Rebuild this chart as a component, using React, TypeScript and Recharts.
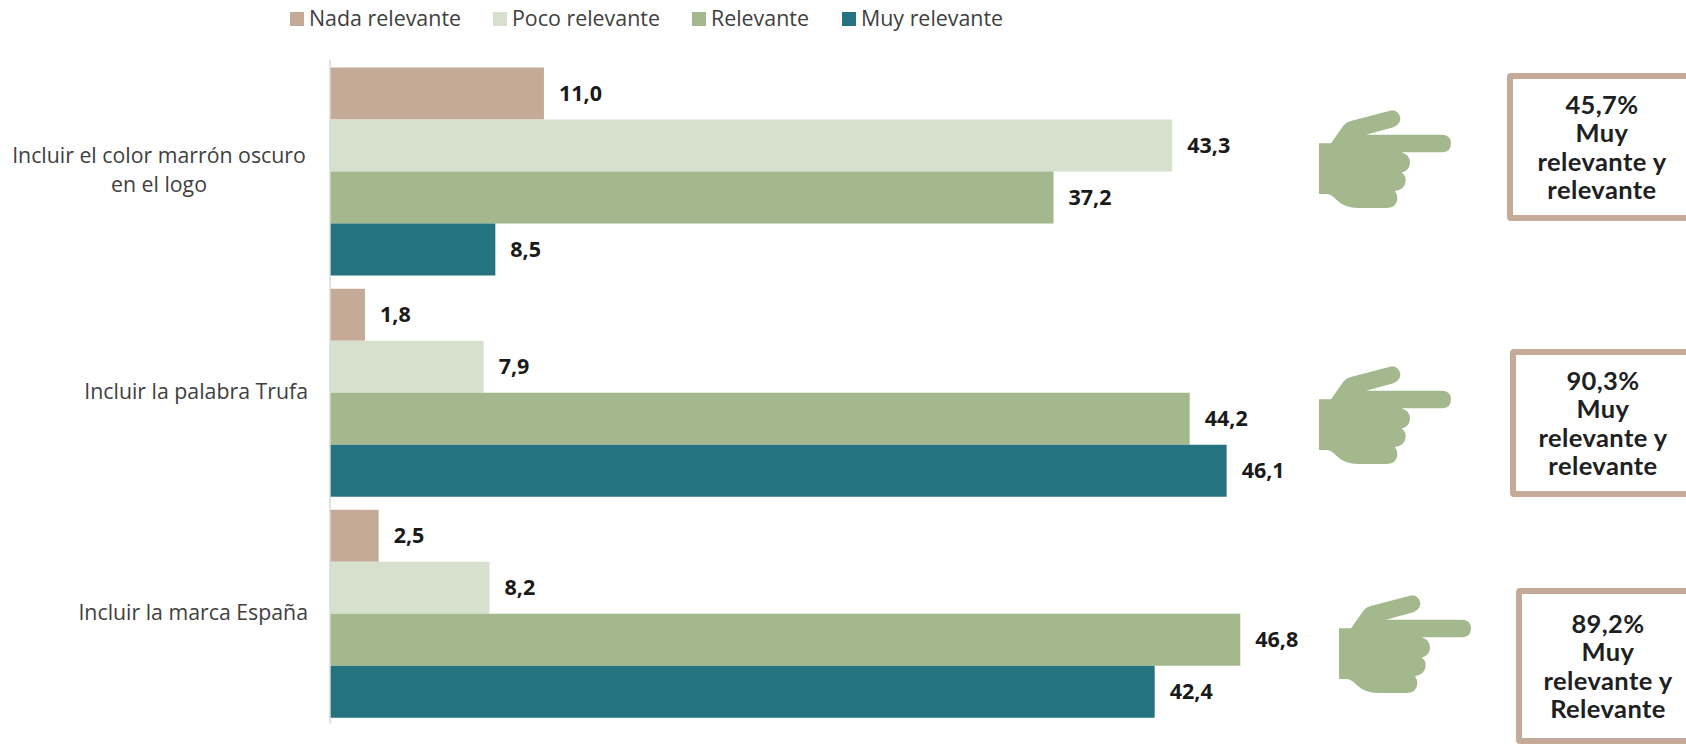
import React from 'react';
import { BarChart, Bar, XAxis, YAxis, LabelList } from 'recharts';

const categories = [
  ['Incluir el color marrón oscuro', 'en el logo'],
  ['Incluir la palabra Trufa'],
  ['Incluir la marca España'],
];
const nadaRelevante = [11.0, 1.8, 2.5];
const pocoRelevante = [43.3, 7.9, 8.2];
const relevante = [37.2, 44.2, 46.8];
const muyRelevante = [8.5, 46.1, 42.4];

const calloutLines = [
  ['45,7%', 'Muy', 'relevante y', 'relevante'],
  ['90,3%', 'Muy', 'relevante y', 'relevante'],
  ['89,2%', 'Muy', 'relevante y', 'Relevante'],
];

const chartData = categories.map((lines, i) => ({
  name: lines.join('|'),
  nada: nadaRelevante[i],
  poco: pocoRelevante[i],
  rel: relevante[i],
  muy: muyRelevante[i],
}));

const TAN = '#C5AA97';
const PALE = '#D7E0CD';
const SAGE = '#A3B88C';
const TEAL = '#257380';
const FONT = '"Open Sans", sans-serif';
const CALLOUT_FONT = 'Lato, sans-serif';

const series = [
  { key: 'nada', name: 'Nada relevante', color: TAN },
  { key: 'poco', name: 'Poco relevante', color: PALE },
  { key: 'rel', name: 'Relevante', color: SAGE },
  { key: 'muy', name: 'Muy relevante', color: TEAL },
];

const legendLeft = [290, 493, 692, 842];

const calloutPlacement = [
  { handX: 0, handY: 0, boxX: 1510, boxY: 76, boxH: 142, textX: 1602, textY: 114 },
  { handX: 0, handY: 256, boxX: 1513, boxY: 352, boxH: 142, textX: 1603, textY: 390 },
  { handX: 20, handY: 485, boxX: 1519, boxY: 591, boxH: 150, textX: 1608, textY: 633 },
];

const HAND =
  'M117 250 L153 250 L190 197 Q198 186 212 183 L330 152 Q345 148 355 160 Q365 175 358 187 Q352 198 340 202 L258 224 L488 224 Q513 226 513 250 Q513 276 488 277 L365 277 Q390 285 390 308 Q390 330 365 338 Q378 345 377 362 Q375 388 345 393 Q353 405 352 418 Q348 443 322 444 L235 444 Q195 444 170 420 Q155 403 140 402 L117 402 Z';

function CategoryTick({ x, y, payload }: any) {
  const lines = String(payload.value).split('|');
  if (lines.length === 1) {
    return (
      <text x={x} y={y} dy={7} textAnchor="end" fontFamily={FONT} fontSize={21.3} fill="#404040">
        {lines[0]}
      </text>
    );
  }
  // wrapped label: lines centred on each other, block flush with the other labels
  return (
    <text textAnchor="middle" fontFamily={FONT} fontSize={21.3} fill="#404040">
      {lines.map((line, i) => (
        <tspan key={line} x={x - 149} y={y - 8 + i * 29}>
          {line}
        </tspan>
      ))}
    </text>
  );
}

function Callout({ index }: { index: number }) {
  const p = calloutPlacement[index];
  return (
    <g>
      <path d={HAND} fill={SAGE} transform={`translate(${1280 + p.handX} ${60 + p.handY}) scale(${1 / 3})`} />
      <rect x={p.boxX} y={p.boxY} width={200} height={p.boxH} fill="#fff" stroke={TAN} strokeWidth={6} rx={1} />
      <text
        textAnchor="middle"
        fontFamily={CALLOUT_FONT}
        fontWeight={700}
        fontSize={25.5}
        letterSpacing={0.4}
        fill="#1d2122"
      >
        {calloutLines[index].map((line, i) => (
          <tspan key={i} x={p.textX} y={p.textY + i * 28.4}>
            {line}
          </tspan>
        ))}
      </text>
    </g>
  );
}

function LegendRow() {
  return (
    <g>
      {series.map((s, i) => (
        <g key={s.key}>
          <rect x={legendLeft[i]} y={12} width={14} height={14} fill={s.color} />
          <text x={legendLeft[i] + 19} y={26} fontFamily={FONT} fontSize={21.4} fill="#404040">
            {s.name}
          </text>
        </g>
      ))}
    </g>
  );
}

export default function App() {
  return (
    <div style={{ position: 'absolute', left: 0, top: 0, width: 1686, height: 744, background: '#fff', overflow: 'hidden' }}>
      <BarChart
        width={1686}
        height={744}
        data={chartData}
        layout="vertical"
        margin={{ top: 60, right: 383.5, bottom: 20.5, left: 8 }}
        barGap={0}
        barCategoryGap={7.5}
      >
        <XAxis type="number" domain={[0, 50]} hide />
        <YAxis
          type="category"
          dataKey="name"
          width={322}
          tickLine={false}
          axisLine={{ stroke: '#D9D9D9', strokeWidth: 1.5 }}
          tick={<CategoryTick />}
          tickMargin={16}
          interval={0}
        />
        {series.map((s) => (
          <Bar key={s.key} dataKey={s.key} name={s.name} fill={s.color} isAnimationActive={false}>
            <LabelList
              dataKey={s.key}
              position="right"
              offset={15}
              formatter={(v: any) => Number(v).toFixed(1).replace('.', ',')}
              fontFamily={FONT}
              fontWeight={700}
              fontSize={21.5}
              fill="#1a1a1a"
            />
          </Bar>
        ))}
        <LegendRow />
        {calloutLines.map((_, i) => (
          <Callout key={i} index={i} />
        ))}
      </BarChart>
    </div>
  );
}
